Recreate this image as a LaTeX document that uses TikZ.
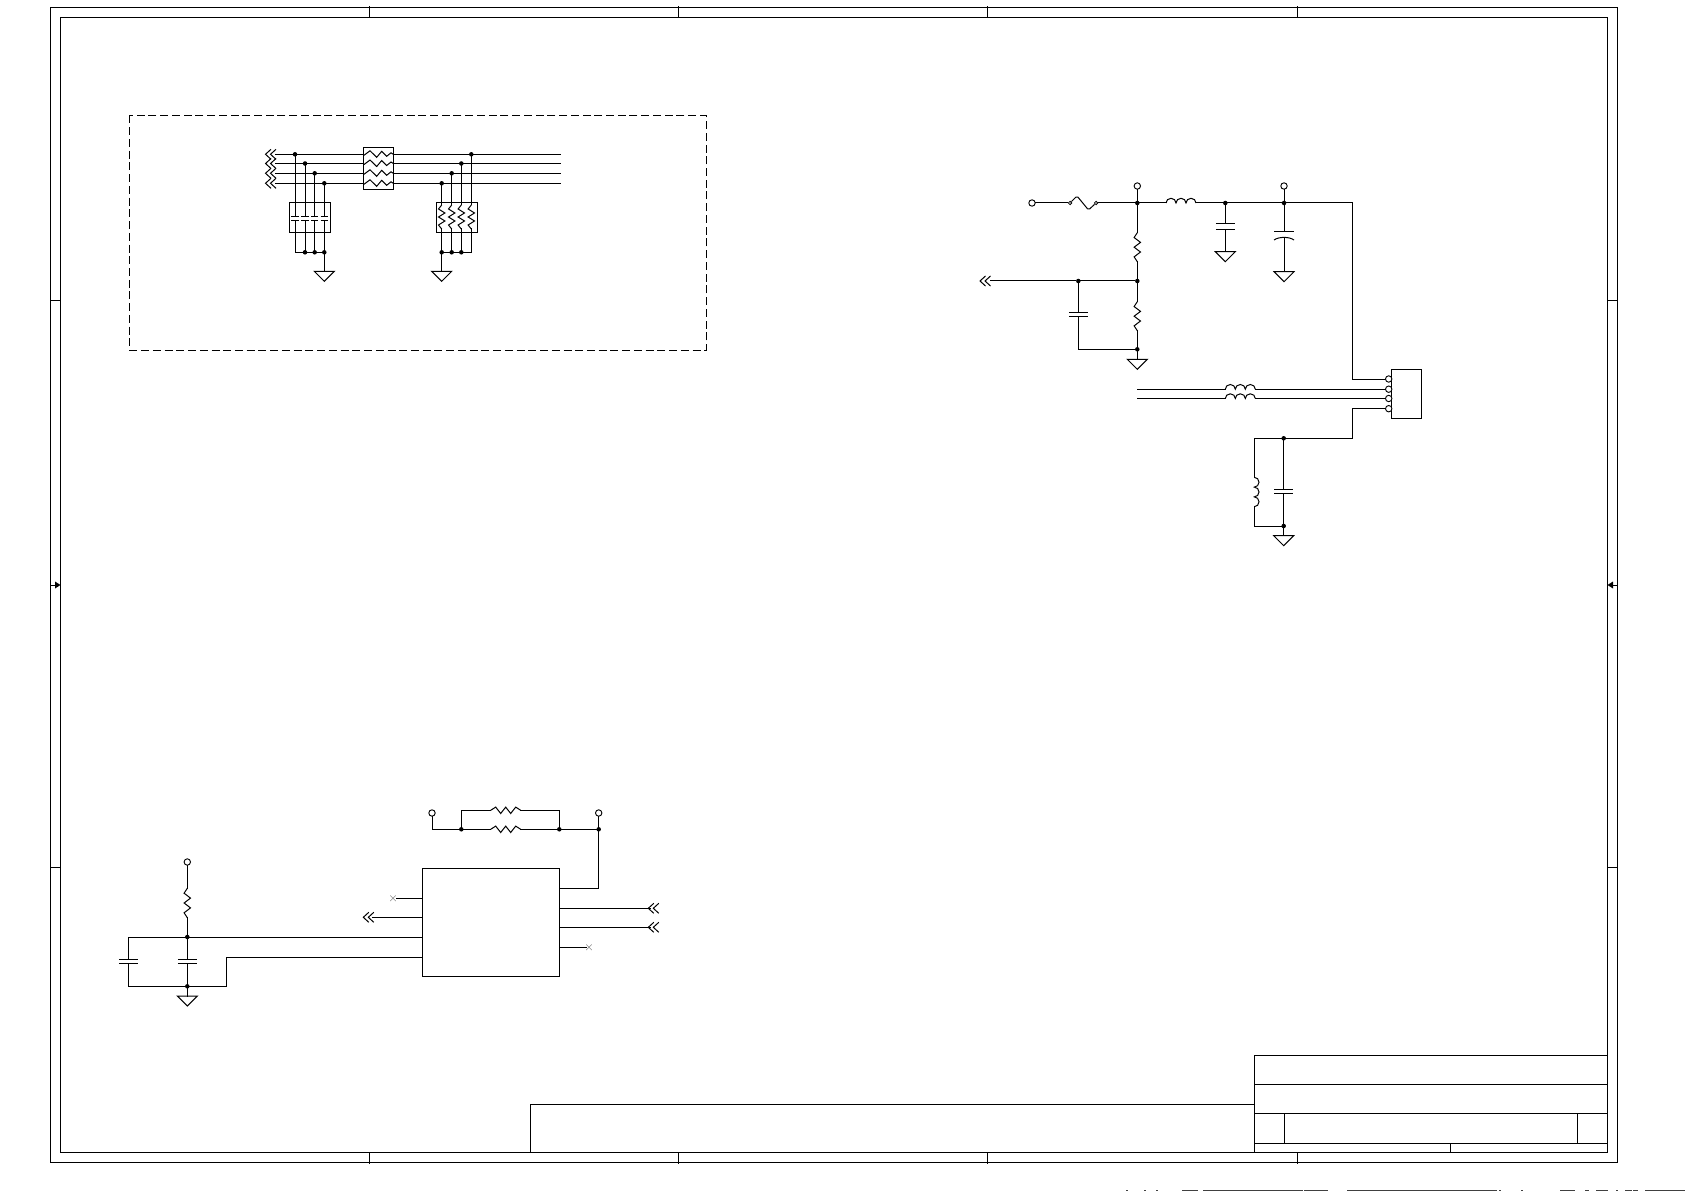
\documentclass[tikz,border=0pt]{standalone}
\usetikzlibrary{calc}
\tikzset{
  x=0.75pt,y=-0.75pt,
  wire/.style={line width=0.75pt,line cap=rect,line join=miter},
  part/.style={line width=0.75pt,line join=miter},
  hair/.style={line width=0.4pt,black!45},
  dot/.style={circle,fill=black,inner sep=0pt,minimum size=3.4pt},
  opencirc/.style={circle,draw=black,fill=white,line width=0.7pt,inner sep=0pt,minimum size=4.8pt},
  smallcirc/.style={circle,draw=black,fill=white,line width=0.55pt,inner sep=0pt,minimum size=2.6pt},
}
% horizontal resistor: start x,y; length
\newcommand{\resH}[3]{\draw[part] (#1,#2) -- ++({(#3)/6},-3.2) -- ++({(#3)/6},6.4) -- ++({(#3)/6},-6.4) -- ++({(#3)/6},6.4) -- ++({(#3)/6},-6.4) -- ++({(#3)/6},3.2);}
% vertical resistor: x, start y, length
\newcommand{\resV}[3]{\draw[part] (#1,#2) -- ++(-3.2,{(#3)/6}) -- ++(6.4,{(#3)/6}) -- ++(-6.4,{(#3)/6}) -- ++(6.4,{(#3)/6}) -- ++(-6.4,{(#3)/6}) -- ++(3.2,{(#3)/6});}
% resistor inside the filter box: row y
\newcommand{\resF}[1]{\draw[part] (364,#1+1) -- (370,#1-3.5) -- (376.7,#1+3) -- (381.7,#1-3) -- (386.7,#1+2) -- (391,#1-1.5) -- (393.3,#1);}
% horizontal coil, humps upward: start x,y
\newcommand{\indH}[2]{\draw[part] (#1,#2) arc[start angle=180,end angle=360,x radius=5,y radius=4.7] arc[start angle=180,end angle=360,x radius=5,y radius=4.7] arc[start angle=180,end angle=360,x radius=5,y radius=4.7];}
% vertical coil, humps to the right: x, start y
\newcommand{\indV}[2]{\draw[part] (#1,#2) arc[start angle=-90,end angle=90,x radius=4.7,y radius=4.9] arc[start angle=-90,end angle=90,x radius=4.7,y radius=4.9] arc[start angle=-90,end angle=90,x radius=4.7,y radius=4.9];}
% ground: x, top y
\newcommand{\gnd}[2]{\draw[part] (#1-10,#2) -- (#1+10,#2) -- (#1,#2+10) -- cycle;}
% cap plates: x, upper y, lower y, half-width
\newcommand{\capH}[4]{\fill[white] (#1-#4,#2) rectangle (#1+#4,#3);\draw[part] (#1-#4,#2) -- (#1+#4,#2) (#1-#4,#3) -- (#1+#4,#3);}
% double chevron, tip at x,y pointing left
\newcommand{\chev}[2]{\draw[part] (#1+5.5,#2-5) -- (#1,#2) -- (#1+5.5,#2+5) (#1+10.5,#2-5) -- (#1+5,#2) -- (#1+10.5,#2+5);}
\newcommand{\noconn}[2]{\draw[hair] (#1-2.8,#2-2.8) -- (#1+2.8,#2+2.8) (#1-2.8,#2+2.8) -- (#1+2.8,#2-2.8);}
\begin{document}
\begin{tikzpicture}
\useasboundingbox (0,0) rectangle (1685,1191);
\fill[white] (0,0) rectangle (1685,1191);
% ---- sheet frame
\draw[wire] (50.5,7.5) rectangle (1617.5,1162);
\draw[wire] (60.5,17.5) rectangle (1607.5,1152.3);
\foreach \tx in {369.5,678,987.5,1297}{
  \draw[part] (\tx,6.5) -- (\tx,17.5);
  \draw[part] (\tx,1152.3) -- (\tx,1163.5);
}
\foreach \ty in {300.5,867.5}{
  \draw[part] (50.5,\ty) -- (60.5,\ty);
  \draw[part] (1607.5,\ty) -- (1617.5,\ty);
}
\draw[part] (50.5,585) -- (56,585);
\fill (60.5,585) -- (55,581.5) -- (55,588.5) -- cycle;
\draw[part] (1617.5,585) -- (1612,585);
\fill (1607.5,585) -- (1613,581.5) -- (1613,588.5) -- cycle;
% ---- title block
\draw[wire] (1254.5,1055) -- (1607.5,1055);
\draw[wire] (1254.5,1084.3) -- (1607.5,1084.3);
\draw[wire] (1254.5,1113.3) -- (1607.5,1113.3);
\draw[wire] (1254.5,1143.3) -- (1607.5,1143.3);
\draw[wire] (1254.5,1055) -- (1254.5,1152.3);
\draw[wire] (1284.3,1113.3) -- (1284.3,1143.3);
\draw[part] (1577.6,1113.3) -- (1577.6,1143.3);
\draw[part] (1450.4,1143.3) -- (1450.4,1152.3);
\draw[wire] (530,1152.3) -- (530,1104.3) -- (1254.5,1104.3);
% ---- dashed region
\draw[line width=0.7pt,dash pattern=on 6pt off 2.8pt] (129.5,115.5) rectangle (706,350.3);
% ---- four-line filter section
\foreach \yy in {154.3,163.5,173.3,183.3}{
  \chev{265.5}{\yy}
  \draw[wire] (275.7,\yy) -- (363.3,\yy);
  \draw[wire] (393.3,\yy) -- (560,\yy);
  \resF{\yy}
}
\draw[part] (363.3,148) rectangle (393.3,189.3);
% cap pack
\draw[part] (289.3,202.7) rectangle (330.3,232.3);
\foreach \xx/\yy in {295/154.3,305/163.5,314.7/173.3,324.3/183.3}{
  \draw[wire] (\xx,\yy) -- (\xx,252.3);
  \node[dot] at (\xx,\yy) {};
  \capH{\xx}{217}{220.7}{3.6}
}
\draw[wire] (295,252.3) -- (324.3,252.3);
\foreach \xx in {305,314.7,324.3}{\node[dot] at (\xx,252.3) {};}
\draw[wire] (324.3,252.3) -- (324.3,271.3);
\gnd{324.3}{271.3}
% resistor pack
\draw[part] (436,202.7) rectangle (477.3,232.3);
\foreach \xx/\yy in {441.7/183.3,451.7/173.3,461.3/163.5,471.3/154.3}{
  \draw[wire] (\xx,\yy) -- (\xx,205);
  \draw[wire] (\xx,229) -- (\xx,252.3);
  \node[dot] at (\xx,\yy) {};
  \resV{\xx}{205}{24}
}
\draw[wire] (441.7,252.3) -- (471.3,252.3);
\foreach \xx in {441.7,451.7,461.3}{\node[dot] at (\xx,252.3) {};}
\draw[wire] (441.7,252.3) -- (441.7,271.3);
\gnd{441.7}{271.3}
% ---- power input section
\node[opencirc] (pin) at (1032,203) {};
\node[smallcirc] (f1) at (1070,203) {};
\node[smallcirc] (f2) at (1096,203) {};
\draw[wire] (pin) -- (f1);
\draw[part,rounded corners=1.2pt] (f1) -- (1077,196) -- (1088.5,210) -- (f2);
\draw[wire] (f2) -- (1166,203);
\indH{1166}{203}
\draw[wire] (1196,203) -- (1352.3,203) -- (1352.3,379) -- (1385.7,379);
\node[dot] (j1) at (1137.3,203) {};
\node[opencirc] (t1) at (1137.3,186) {};
\draw[wire] (t1) -- (j1);
\draw[wire] (j1) -- (1137.3,232.7);
\resV{1137.3}{232.7}{29}
\draw[wire] (1137.3,261.7) -- (1137.3,301.7);
\resV{1137.3}{301.7}{29}
\draw[wire] (1137.3,330.7) -- (1137.3,359.3);
\gnd{1137.3}{359.3}
\node[dot] (j2) at (1137.3,281) {};
\node[dot] (j3) at (1078.3,281) {};
\node[dot] (j4) at (1137.3,349.3) {};
\draw[wire] (990,281) -- (j3) -- (j2);
\chev{980}{281}
\draw[wire] (1078.3,281) -- (1078.3,349.3) -- (1137.3,349.3);
\capH{1078.3}{312.3}{316.7}{9.5}
% C next to coil
\node[dot] (j5) at (1225.3,203) {};
\draw[wire] (1225.3,203) -- (1225.3,251.7);
\capH{1225.3}{224}{229.3}{9.5}
\gnd{1225.3}{251.7}
% polarised C
\node[dot] (j6) at (1284,203) {};
\node[opencirc] (t2) at (1284,186) {};
\draw[wire] (t2) -- (j6);
\draw[wire] (1284,203) -- (1284,271.7);
\fill[white] (1274,232.3) rectangle (1294,237.3);
\draw[part] (1274,232) -- (1294,232);
\draw[part] (1274,240) .. controls (1279,236.5) and (1289,236.5) .. (1294,240);
\gnd{1284}{271.7}
% connector
\draw[part] (1391.3,369.3) rectangle (1421.7,418.3);
\node[opencirc] (c1) at (1388.7,379) {};
\node[opencirc] (c2) at (1388.7,389.2) {};
\node[opencirc] (c3) at (1388.7,398.5) {};
\node[opencirc] (c4) at (1388.7,408.7) {};
\draw[wire] (1137.3,389.2) -- (1225.3,389.2);
\indH{1225.3}{389.2}
\draw[wire] (1255.3,389.2) -- (c2);
\draw[wire] (1137.3,398.5) -- (1225.3,398.5);
\indH{1225.3}{398.5}
\draw[wire] (1255.3,398.5) -- (c3);
% lower LC
\draw[wire] (c4) -- (1352.3,408.7) -- (1352.3,438.3) -- (1254.3,438.3) -- (1254.3,477.3);
\indV{1254.3}{477.3}
\draw[wire] (1254.3,506.7) -- (1254.3,526) -- (1283.7,526);
\node[dot] (j7) at (1283.7,438.3) {};
\node[dot] (j8) at (1283.7,526) {};
\draw[wire] (j7) -- (1283.7,535.7);
\capH{1283.7}{489}{493.3}{9.5}
\gnd{1283.7}{535.7}
% ---- IC section
\draw[part] (422.3,868.3) rectangle (559.3,976);
\node[opencirc] (v1) at (187.3,862) {};
\draw[wire] (v1) -- (187.3,888.3);
\resV{187.3}{888.3}{29.4}
\node[dot] (j9) at (187.3,937) {};
\node[dot] (j10) at (187.3,986.3) {};
\draw[wire] (187.3,917.7) -- (j9);
\draw[wire] (128.3,937) -- (422.3,937);
\draw[wire] (128.3,937) -- (128.3,986.3) -- (226.3,986.3) -- (226.3,957.3) -- (422.3,957.3);
\draw[wire] (j9) -- (187.3,996);
\capH{128.3}{959.3}{963.7}{9.5}
\capH{187.3}{959.3}{963.7}{9.5}
\gnd{187.3}{996}
\draw[wire] (396,898.3) -- (422.3,898.3);
\noconn{393}{898.3}
\draw[wire] (372.7,917.3) -- (422.3,917.3);
\chev{363.3}{917.3}
% top parallel resistors
\node[opencirc] (v2) at (432,813) {};
\node[opencirc] (v3) at (598.7,813) {};
\node[dot] (j11) at (461.3,829.3) {};
\node[dot] (j12) at (559.3,829.3) {};
\node[dot] (j13) at (598.7,829.3) {};
\draw[wire] (v2) -- (432,829.3) -- (490.7,829.3);
\draw[wire] (520.7,829.3) -- (598.7,829.3);
\resH{490.7}{829.3}{30}
\draw[wire] (461.3,829.3) -- (461.3,810.3) -- (490.7,810.3);
\resH{490.7}{810.3}{30}
\draw[wire] (520.7,810.3) -- (559.3,810.3) -- (559.3,829.3);
\draw[wire] (v3) -- (598.7,888.3) -- (559.3,888.3);
% right pins
\draw[wire] (559.3,908.3) -- (650,908.3);
\chev{648.3}{908.3}
\draw[wire] (559.3,927.3) -- (650,927.3);
\chev{648.3}{927.3}
\draw[wire] (559.3,947.3) -- (586.5,947.3);
\noconn{589}{947.3}
% ---- clipped strip along the bottom edge
\foreach \a/\b in {1126/1128,1144/1146,1156/1158,1182/1198,1203/1303,1304/1328,1347/1497,1499/1501,1521/1523,1560/1575,1585/1589,1596/1608,1616/1618,1625/1632,1633/1638,1645/1685}{
  \fill[black!75] (\a,1189.8) rectangle (\b,1191);
}
\end{tikzpicture}
\end{document}
